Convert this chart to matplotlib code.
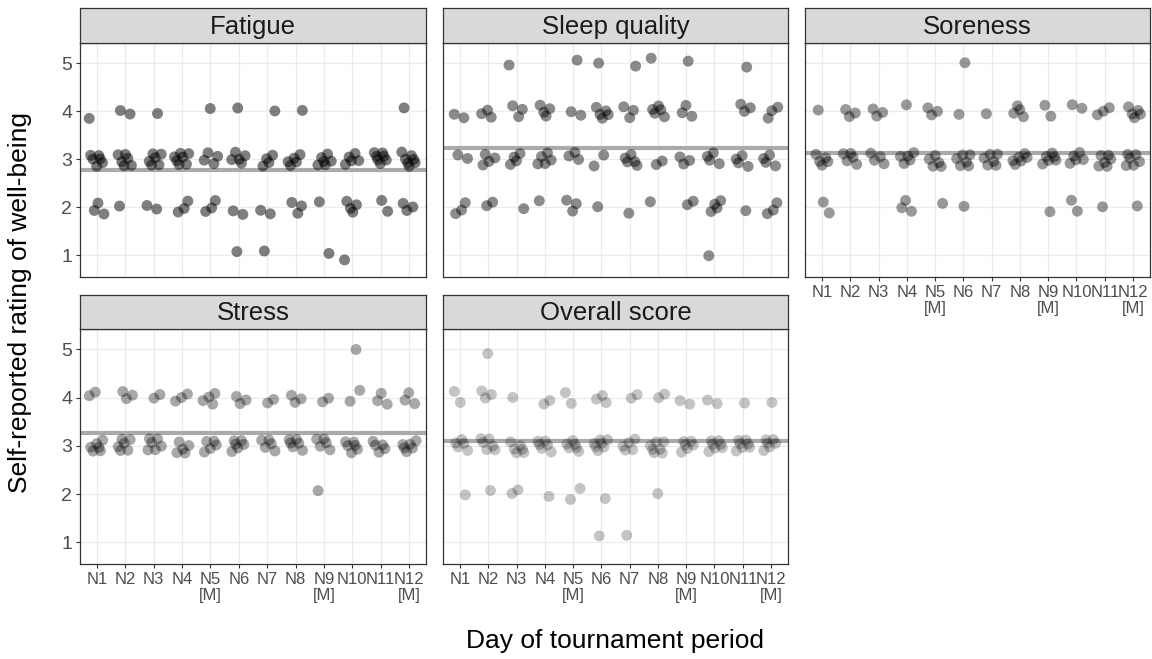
import matplotlib
matplotlib.use("Agg")
import matplotlib.pyplot as plt
import numpy as np

plt.rcParams['font.family'] = ['Liberation Sans', 'DejaVu Sans']

days = ["N1", "N2", "N3", "N4", "N5\n[M]", "N6", "N7", "N8", "N9\n[M]", "N10", "N11", "N12\n[M]"]
panel_titles = ["Fatigue", "Sleep quality", "Soreness", "Stress", "Overall score"]

fatigue = [
    [4, 3, 3, 3, 3, 3, 3, 2, 2, 2], [4, 4, 3, 3, 3, 3, 3, 3, 2], [4, 3, 3, 3, 3, 3, 3, 2, 2],
    [3, 3, 3, 3, 3, 3, 3, 2, 2, 2], [4, 3, 3, 3, 3, 2, 2, 2], [4, 3, 3, 3, 3, 3, 2, 2, 1],
    [4, 3, 3, 3, 3, 2, 2, 1], [4, 3, 3, 3, 3, 3, 2, 2, 2], [3, 3, 3, 3, 3, 3, 2, 1],
    [3, 3, 3, 3, 3, 2, 2, 2, 2, 1], [3, 3, 3, 3, 3, 3, 3, 2, 2], [4, 3, 3, 3, 3, 3, 3, 3, 2, 2, 2],
]
sleep_quality = [
    [4, 4, 3, 3, 2, 2, 2], [4, 4, 4, 3, 3, 3, 3, 2, 2], [5, 4, 4, 4, 3, 3, 3, 3, 2],
    [4, 4, 4, 4, 3, 3, 3, 3, 3, 2], [5, 4, 4, 3, 3, 3, 2, 2, 2], [5, 4, 4, 4, 4, 4, 3, 3, 2],
    [5, 4, 4, 4, 3, 3, 3, 3, 3, 2], [5, 4, 4, 4, 4, 4, 3, 3, 2], [5, 4, 4, 4, 3, 3, 3, 2, 2],
    [3, 3, 3, 3, 2, 2, 2, 2, 1], [5, 4, 4, 4, 3, 3, 3, 3, 2], [4, 4, 4, 3, 3, 3, 3, 2, 2, 2],
]
soreness = [
    [4, 3, 3, 3, 3, 3, 2, 2], [4, 4, 4, 3, 3, 3, 3, 3], [4, 4, 4, 3, 3, 3, 3],
    [4, 3, 3, 3, 3, 3, 2, 2, 2], [4, 4, 4, 3, 3, 3, 3, 3, 2], [5, 4, 3, 3, 3, 3, 3, 3, 2],
    [4, 3, 3, 3, 3, 3, 3], [4, 4, 4, 4, 3, 3, 3, 3, 3, 3], [4, 4, 3, 3, 3, 3, 3, 3, 2],
    [4, 4, 3, 3, 3, 3, 3, 2, 2], [4, 4, 4, 3, 3, 3, 3, 3, 3, 2], [4, 4, 4, 4, 4, 3, 3, 3, 3, 3, 3, 2],
]
stress = [
    [4, 4, 3, 3, 3, 3, 3, 3], [4, 4, 4, 3, 3, 3, 3, 3, 3], [4, 4, 3, 3, 3, 3, 3, 3],
    [4, 4, 4, 3, 3, 3, 3, 3], [4, 4, 4, 4, 3, 3, 3, 3, 3], [4, 4, 4, 3, 3, 3, 3, 3, 3],
    [4, 4, 3, 3, 3, 3, 3], [4, 4, 4, 3, 3, 3, 3, 3, 3], [4, 4, 3, 3, 3, 3, 3, 2],
    [5, 4, 4, 3, 3, 3, 3, 3, 3], [4, 4, 4, 3, 3, 3, 3, 3], [4, 4, 4, 3, 3, 3, 3, 3, 3],
]
overall_score = [
    [4, 4, 3, 3, 3, 3, 3, 2], [5, 4, 4, 4, 3, 3, 3, 3, 3, 3, 2], [4, 3, 3, 3, 3, 3, 3, 2, 2],
    [4, 4, 3, 3, 3, 3, 3, 3, 2], [4, 4, 3, 3, 3, 3, 3, 3, 2, 2], [4, 4, 4, 3, 3, 3, 3, 3, 3, 3, 2, 1],
    [4, 4, 3, 3, 3, 3, 3, 1], [4, 4, 3, 3, 3, 3, 3, 3, 3, 2], [4, 4, 3, 3, 3, 3, 3, 3],
    [4, 4, 3, 3, 3, 3, 3, 3, 3], [4, 3, 3, 3, 3, 3, 3, 3], [4, 3, 3, 3, 3, 3, 3],
]
panel_data = [fatigue, sleep_quality, soreness, stress, overall_score]
panel_means = [2.78, 3.24, 3.13, 3.27, 3.10]
point_alpha = [0.50, 0.45, 0.40, 0.34, 0.23]

W, H = 1152, 659
fig = plt.figure(figsize=(W / 100, H / 100), dpi=100)

cols = [(80, 426), (443, 788), (805, 1150)]
rows = [(43, 277, 8), (329, 564, 295)]
layout = [(0, 0), (0, 1), (0, 2), (1, 0), (1, 1)]

GOLD1 = 0.6180339887
GOLD2 = 0.7548776662

for p, (title, data) in enumerate(zip(panel_titles, panel_data)):
    r, c = layout[p]
    x0, x1 = cols[c]
    ytop, ybot, stop = rows[r]
    ax = fig.add_axes([x0 / W, 1 - ybot / H, (x1 - x0) / W, (ybot - ytop) / H])
    sax = fig.add_axes([x0 / W, 1 - ytop / H, (x1 - x0) / W, (ytop - stop) / H])
    sax.set_facecolor('#d9d9d9')
    sax.set_xticks([]); sax.set_yticks([])
    for s in sax.spines.values():
        s.set_color('#333333'); s.set_linewidth(0.9)
    sax.text(0.5, 0.47, title, ha='center', va='center', fontsize=18.5, color='#1a1a1a',
             transform=sax.transAxes)

    xs, ys = [], []
    k = 0
    for d, vals in enumerate(data):
        for v in vals:
            dx = ((k * GOLD1 + p * 0.13) % 1 - 0.5) * 0.55
            dy = ((k * GOLD2 + p * 0.29) % 1 - 0.5) * 0.3
            xs.append(d + 1 + dx)
            ys.append(v + dy)
            k += 1
    ax.axhline(panel_means[p], color='#aaaaaa', lw=3.0, zorder=2)
    ax.scatter(xs, ys, s=62, color='black', alpha=point_alpha[p], edgecolors='none', zorder=3)

    ax.set_xlim(0.4, 12.6)
    ax.set_ylim(0.55, 5.42)
    ax.set_xticks(range(1, 13))
    ax.set_yticks([1, 2, 3, 4, 5])
    ax.grid(True, color='#ebebeb', lw=0.9)
    ax.set_axisbelow(True)
    for s in ax.spines.values():
        s.set_color('#333333'); s.set_linewidth(0.9)
    ax.tick_params(colors='#333333', length=3, width=0.8, pad=2.5)
    show_x = (r == 1) or (c == 2)
    if show_x:
        ax.set_xticklabels(days, fontsize=12, color='#4d4d4d', linespacing=1.15)
    else:
        ax.set_xticklabels([])
        ax.tick_params(axis='x', length=0)
    if c == 0:
        ax.set_yticklabels(['1', '2', '3', '4', '5'], fontsize=14, color='#4d4d4d')
    else:
        ax.set_yticklabels([])
        ax.tick_params(axis='y', length=0)

fig.text(615 / W, 1 - 641 / H, "Day of tournament period", ha='center', va='center', fontsize=19)
fig.text(20 / W, 1 - 303 / H, "Self-reported rating of well-being", ha='center', va='center',
         fontsize=19, rotation=90)

fig.savefig("out.png", dpi=100)
